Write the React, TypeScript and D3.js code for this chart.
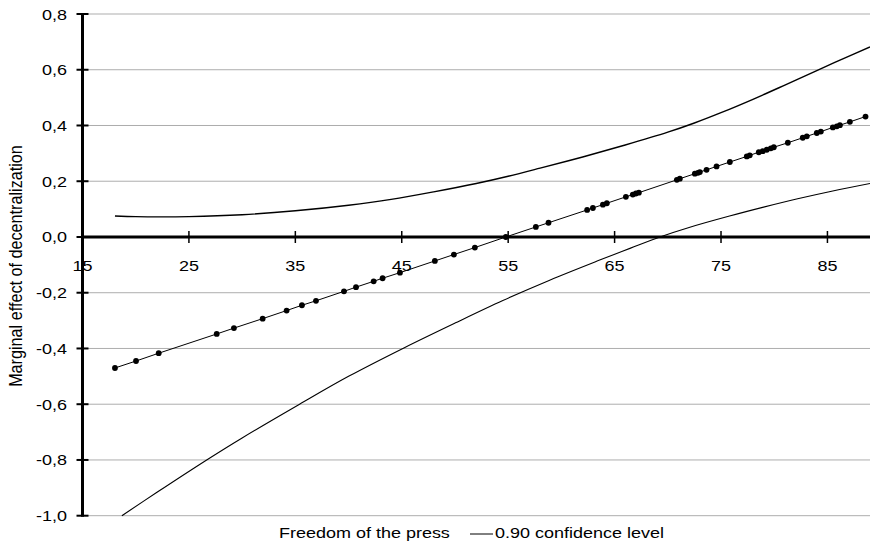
import React from "react";
import * as d3 from "d3";

const W = 870;
const H = 544;

// Estimated marginal effect (points on the straight line)
const pointX = [
  18.05, 20.03, 22.16, 27.61, 29.23, 31.93, 34.18, 35.62, 36.94, 39.57, 40.7, 42.36, 43.2, 44.83,
  48.11, 49.9, 51.87, 54.78, 57.6, 58.79, 62.42, 62.96, 63.9, 64.27, 66.06, 66.71, 67.0, 67.28,
  70.85, 71.13, 72.54, 72.83, 73.01, 73.64, 74.58, 75.83, 77.42, 77.7, 78.55, 78.92, 79.3, 79.68,
  79.96, 81.28, 82.68, 83.06, 84.0, 84.38, 85.51, 85.88, 86.17, 87.11, 88.58,
];
const pointY = [
  -0.47, -0.445, -0.417, -0.348, -0.327, -0.293, -0.264, -0.245, -0.229, -0.195, -0.18, -0.159,
  -0.148, -0.128, -0.086, -0.063, -0.038, 0.0, 0.036, 0.051, 0.097, 0.104, 0.116, 0.121, 0.144,
  0.152, 0.156, 0.159, 0.205, 0.209, 0.227, 0.23, 0.233, 0.241, 0.253, 0.269, 0.289, 0.293, 0.304,
  0.308, 0.313, 0.318, 0.322, 0.338, 0.356, 0.361, 0.373, 0.378, 0.393, 0.397, 0.401, 0.413, 0.432,
];

// Upper 90% confidence bound
const upperX = [18.05, 20, 22, 25, 30, 35, 40, 44, 48, 52, 55, 58, 62, 66, 70, 72.5, 75, 78, 81, 84, 86.5, 89];
const upperY = [0.075, 0.073, 0.072, 0.073, 0.08, 0.094, 0.114, 0.135, 0.162, 0.192, 0.218, 0.247, 0.287, 0.33, 0.376, 0.409, 0.446, 0.494, 0.545, 0.597, 0.64, 0.682];

// Lower 90% confidence bound
const lowerX = [18.7, 22, 26.67, 30, 35.4, 40, 45.2, 50, 54.5, 58.9, 63.6, 66.5, 69.26, 72, 75.8, 79, 82.2, 85.5, 89];
const lowerY = [-1.0, -0.916, -0.8, -0.721, -0.6, -0.5, -0.398, -0.309, -0.228, -0.155, -0.083, -0.04, 0.0, 0.034, 0.075, 0.107, 0.137, 0.165, 0.192];

const xTicks = [15, 25, 35, 45, 55, 65, 75, 85];
const yTicks = [-1.0, -0.8, -0.6, -0.4, -0.2, 0.0, 0.2, 0.4, 0.6, 0.8];

const xTitle = "Freedom of the press";
const yTitle = "Marginal effect of decentralization";
const legendLabel = "0.90 confidence level";

const FONT = "'Liberation Sans', Arial, sans-serif";
const FS = 15;
const SX = 1.2; // horizontal stretch of the reference text

const fmt = (v: number) => v.toFixed(1).replace(".", ",");

function SText({
  x,
  y,
  anchor,
  children,
  rotate = 0,
  sy = 1,
}: {
  x: number;
  y: number;
  anchor: string;
  children: React.ReactNode;
  rotate?: number;
  sy?: number;
}) {
  return (
    <g transform={`translate(${x},${y}) scale(${SX},${sy}) rotate(${rotate})`}>
      <text x={0} y={0} textAnchor={anchor} fontFamily={FONT} fontSize={FS} fill="#000">
        {children}
      </text>
    </g>
  );
}

export default function App() {
  const x = d3.scaleLinear().domain([15, 89]).range([82.5, 870]);
  const y = d3.scaleLinear().domain([-1, 0.8]).range([515.7, 14]);

  const lineGen = d3
    .line<[number, number]>()
    .x((d) => x(d[0]))
    .y((d) => y(d[1]));
  const curveGen = d3
    .line<[number, number]>()
    .x((d) => x(d[0]))
    .y((d) => y(d[1]))
    .curve(d3.curveCatmullRom.alpha(0.5));

  const pts: [number, number][] = pointX.map((v, i) => [v, pointY[i]]);
  const up: [number, number][] = upperX.map((v, i) => [v, upperY[i]]);
  const lo: [number, number][] = lowerX.map((v, i) => [v, lowerY[i]]);

  const x0 = x(15);
  const x1 = x(89);

  return (
    <svg width={W} height={H} style={{ position: "absolute", left: 0, top: 0, background: "#fff" }}>
      {/* gridlines */}
      {yTicks.map((t) => (
        <line key={"g" + t} x1={x0} x2={x1} y1={y(t)} y2={y(t)} stroke="#adadad" strokeWidth={1} />
      ))}

      {/* confidence bounds */}
      <path d={curveGen(up) || ""} fill="none" stroke="#000" strokeWidth={1.4} />
      <path d={curveGen(lo) || ""} fill="none" stroke="#000" strokeWidth={1.1} />

      {/* marginal effect line + markers */}
      <path d={lineGen(pts) || ""} fill="none" stroke="#000" strokeWidth={1} />
      {pts.map((p, i) => (
        <circle key={"p" + i} cx={x(p[0])} cy={y(p[1])} r={2.9} fill="#000" />
      ))}

      {/* x axis at zero */}
      <line x1={x0} x2={x1} y1={y(0)} y2={y(0)} stroke="#000" strokeWidth={3} />
      {xTicks.map((t) => (
        <line key={"xt" + t} x1={x(t)} x2={x(t)} y1={y(0) - 6} y2={y(0) + 6} stroke="#000" strokeWidth={1.5} />
      ))}

      {/* y axis */}
      <line x1={x0} x2={x0} y1={y(0.8) - 1} y2={y(-1) + 1} stroke="#000" strokeWidth={3} />
      {yTicks.map((t) => (
        <line key={"yt" + t} x1={x0 - 6} x2={x0 + 6} y1={y(t)} y2={y(t)} stroke="#000" strokeWidth={2} />
      ))}

      {/* y tick labels */}
      {yTicks.map((t) => (
        <SText key={"yl" + t} x={67} y={y(t) + 5.5} anchor="end">
          {fmt(t)}
        </SText>
      ))}

      {/* x tick labels */}
      {xTicks.map((t) => (
        <SText key={"xl" + t} x={x(t)} y={y(0) + 34} anchor="middle">
          {t}
        </SText>
      ))}

      {/* axis titles */}
      <SText x={279} y={538} anchor="start">
        {xTitle}
      </SText>
      <line x1={470} x2={493} y1={534} y2={534} stroke="#000" strokeWidth={1} />
      <SText x={495} y={538} anchor="start">
        {legendLabel}
      </SText>
      <SText x={22} y={266} anchor="middle" rotate={-90} sy={1.08}>
        {yTitle}
      </SText>
    </svg>
  );
}
